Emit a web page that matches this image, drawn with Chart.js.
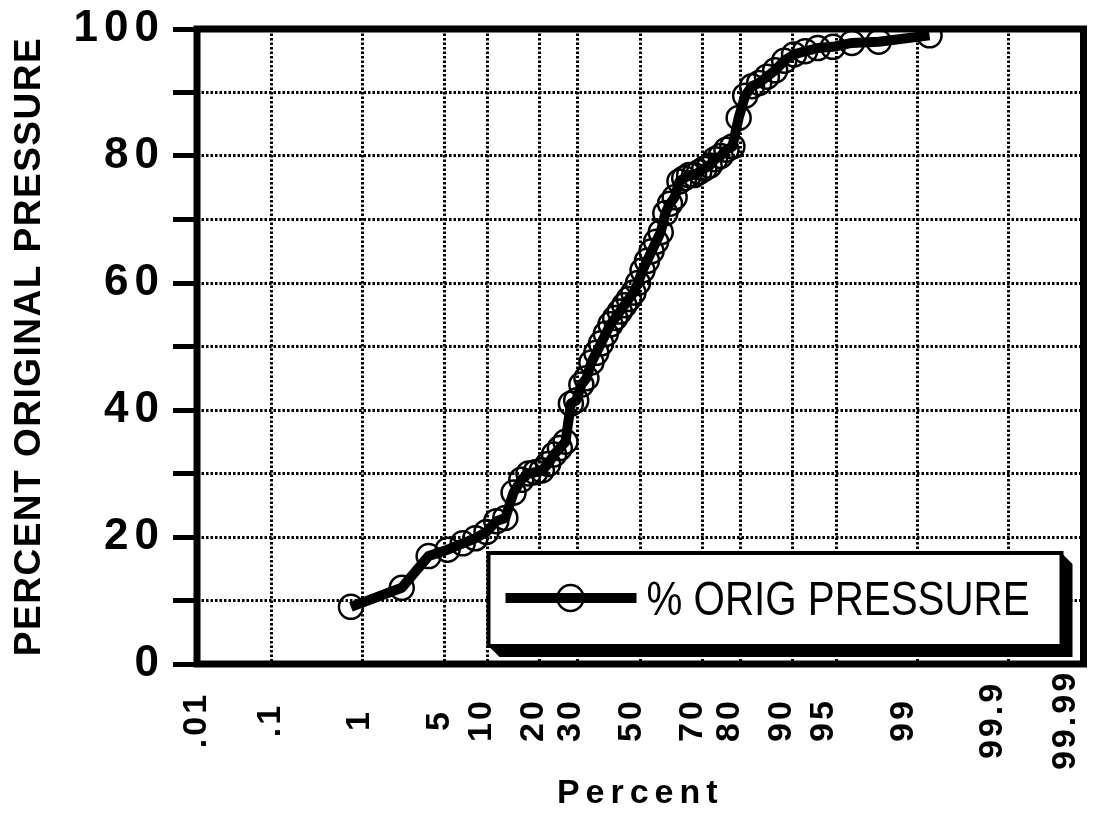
<!DOCTYPE html>
<html>
<head>
<meta charset="utf-8">
<title>Percent original pressure - probability plot</title>
<script src="https://cdn.jsdelivr.net/npm/chart.js@4.4.1/dist/chart.umd.min.js"></script>
<style>
  html, body { margin: 0; padding: 0; background: #fff; }
  canvas { display: block; }
</style>
</head>
<body>
<canvas id="chart" width="1098" height="814"></canvas>
<script>
// cumulative percent (plotting position) of each reading
const percentRank = [
    0.76, 2.27, 3.79, 5.30, 6.82, 8.33, 9.85, 11.36, 12.88, 14.39,
    15.91, 17.42, 18.94, 20.45, 21.97, 23.48, 25.00, 26.52, 28.03, 29.55,
    31.06, 32.58, 34.09, 35.61, 37.12, 38.64, 40.15, 41.67, 43.18, 44.70,
    46.21, 47.73, 49.24, 50.76, 52.27, 53.79, 55.30, 56.82, 58.33, 59.85,
    61.36, 62.88, 64.39, 65.91, 67.42, 68.94, 70.45, 71.97, 73.48, 75.00,
    76.52, 78.03, 79.55, 81.06, 82.58, 84.09, 85.61, 87.12, 88.64, 90.15,
    91.67, 93.18, 94.70, 96.21, 97.73, 99.24,
];

// percent of original pressure, sorted
const pressurePct = [
    9.0, 12.0, 17.0, 18.0, 19.0, 19.8, 20.8, 22.5, 23.0, 27.0,
    29.0, 30.0, 30.2, 30.5, 31.5, 33.0, 34.0, 35.0, 41.0, 41.5,
    44.0, 45.0, 47.5, 49.0, 50.5, 52.0, 53.5, 54.5, 55.5, 56.5,
    57.5, 58.5, 60.0, 62.0, 63.5, 65.0, 66.5, 68.0, 71.0, 72.5,
    73.5, 76.0, 76.5, 77.0, 77.0, 77.5, 78.0, 78.5, 79.5, 80.0,
    81.0, 81.5, 86.0, 89.5, 91.0, 91.5, 92.5, 93.5, 95.0, 96.0,
    96.5, 97.0, 97.2, 97.8, 98.0, 99.0,
];

const xTicks = [0.01, 0.1, 1, 5, 10, 20, 30, 50, 70, 80, 90, 95, 99, 99.9, 99.99];
const xTickLabels = ['.01', '.1', '1', '5', '10', '20', '30', '50', '70', '80', '90', '95', '99', '99.9', '99.99'];
const yLabeled = [0, 20, 40, 60, 80, 100];
const seriesLabel = '% ORIG PRESSURE';

const AXIS_FONT = '"Liberation Sans", Arial, Helvetica, sans-serif';

// inverse of the normal cdf (Acklam), used by the probability axis
function probit(p) {
    const a = [-3.969683028665376e+01, 2.209460984245205e+02, -2.759285104469687e+02, 1.383577518672690e+02, -3.066479806614716e+01, 2.506628277459239e+00];
    const b = [-5.447609879822406e+01, 1.615858368580409e+02, -1.556989798598866e+02, 6.680131188771972e+01, -1.328068155288572e+01];
    const c = [-7.784894002430293e-03, -3.223964580411365e-01, -2.400758277161838e+00, -2.549732539343734e+00, 4.374664141464968e+00, 2.938163982698783e+00];
    const d = [7.784695709041462e-03, 3.224671290700398e-01, 2.445134137142996e+00, 3.754408661907416e+00];
    const lo = 0.02425;
    if (p < lo || p > 1 - lo) {
        const q = Math.sqrt(-2 * Math.log(p < lo ? p : 1 - p));
        const v = (((((c[0] * q + c[1]) * q + c[2]) * q + c[3]) * q + c[4]) * q + c[5]) /
            ((((d[0] * q + d[1]) * q + d[2]) * q + d[3]) * q + 1);
        return p < lo ? v : -v;
    }
    const q = p - 0.5;
    const r = q * q;
    return (((((a[0] * r + a[1]) * r + a[2]) * r + a[3]) * r + a[4]) * r + a[5]) * q /
        (((((b[0] * r + b[1]) * r + b[2]) * r + b[3]) * r + b[4]) * r + 1);
}

function spacedText(ctx, spacing, draw) {
    ctx.save();
    ctx.letterSpacing = spacing || '0px';
    draw();
    ctx.restore();
}

class SpacedLinearScale extends Chart.LinearScale {
    drawLabels(area) {
        spacedText(this.ctx, this.options.ticks.letterSpacing, () => super.drawLabels(area));
    }
    drawTitle() {
        spacedText(this.ctx, this.options.title.letterSpacing, () => super.drawTitle());
    }
}
SpacedLinearScale.id = 'spacedLinear';
SpacedLinearScale.defaults = {};

// normal probability axis: values are percents, positions follow the z score
class ProbitScale extends SpacedLinearScale {
    determineDataLimits() {
        const lo = probit(xTicks[0] / 100);
        const hi = probit(xTicks[xTicks.length - 1] / 100);
        const stretch = this.options.stretch || 1;
        this.min = lo;
        this.max = lo + (hi - lo) * stretch;
    }
    buildTicks() {
        return xTicks.map((value) => ({ value }));
    }
    getPixelForValue(value) {
        return super.getPixelForValue(probit(value / 100));
    }
    // the rotated labels sit centred on a common line under the frame
    _computeLabelItems(area) {
        const items = super._computeLabelItems(area);
        const mid = this.options.ticks.centerOffset;
        if (mid) {
            items.forEach((item) => {
                item.options.textAlign = 'center';
                item.options.translation = [item.options.translation[0], this.top + mid];
            });
        }
        return items;
    }
}
ProbitScale.id = 'probit';
ProbitScale.defaults = {};

Chart.register(SpacedLinearScale, ProbitScale);

const whiteBg = {
    id: 'whiteBg',
    beforeDraw(chart) {
        const { ctx, width, height } = chart;
        ctx.save();
        ctx.fillStyle = '#fff';
        ctx.fillRect(0, 0, width, height);
        ctx.restore();
    },
};

const frame = {
    id: 'frame',
    afterDatasetsDraw(chart) {
        const { ctx, chartArea: a } = chart;
        ctx.save();
        ctx.lineWidth = 7;
        ctx.strokeStyle = '#000';
        ctx.strokeRect(a.left, a.top, a.right - a.left, a.bottom - a.top);
        ctx.restore();
    },
};

// boxed legend with the dropped shadow of the original
const legendBox = {
    id: 'legendBox',
    afterDraw(chart) {
        const { ctx, chartArea: a } = chart;
        const ds = chart.data.datasets[0];
        const x0 = a.right - 595;
        const x1 = a.right - 22;
        const y0 = a.bottom - 111;
        const y1 = a.bottom - 18;
        const d = 11;
        ctx.save();
        ctx.fillStyle = '#000';
        ctx.beginPath();
        ctx.moveTo(x1, y0);
        ctx.lineTo(x1 + d, y0 + d);
        ctx.lineTo(x1 + d, y1 + d);
        ctx.lineTo(x0 + d, y1 + d);
        ctx.lineTo(x0, y1);
        ctx.closePath();
        ctx.fill();
        ctx.fillStyle = '#fff';
        ctx.fillRect(x0, y0, x1 - x0, y1 - y0);
        ctx.lineWidth = 4;
        ctx.strokeStyle = '#000';
        ctx.strokeRect(x0, y0, x1 - x0, y1 - y0);

        const cy = y0 + 45;
        ctx.lineWidth = ds.borderWidth;
        ctx.beginPath();
        ctx.moveTo(x0 + 17, cy);
        ctx.lineTo(x0 + 148, cy);
        ctx.stroke();
        ctx.lineWidth = ds.pointBorderWidth;
        ctx.beginPath();
        ctx.arc(x0 + 82, cy, ds.pointRadius + 1, 0, Math.PI * 2);
        ctx.stroke();

        ctx.fillStyle = '#000';
        ctx.font = '48px ' + AXIS_FONT;
        ctx.textBaseline = 'alphabetic';
        ctx.textAlign = 'left';
        ctx.translate(x0 + 158, cy + 17);
        ctx.scale(0.84, 1);
        ctx.fillText(ds.label, 0, 0);
        ctx.restore();
    },
};

const noSidePadding = (s) => {
    s.paddingLeft = 0;
    s.paddingRight = 0;
};

new Chart(document.getElementById('chart'), {
    type: 'line',
    data: {
        datasets: [{
            label: seriesLabel,
            data: percentRank.map((x, i) => ({ x, y: pressurePct[i] })),
            xAxisID: 'x',
            yAxisID: 'y',
            borderColor: '#000',
            borderWidth: 10,
            borderJoinStyle: 'round',
            pointRadius: 12,
            pointBorderWidth: 2.5,
            pointBorderColor: '#000',
            pointBackgroundColor: 'rgba(0,0,0,0)',
            tension: 0,
            fill: false,
        }],
    },
    options: {
        responsive: false,
        animation: false,
        events: [],
        layout: { padding: { top: 29, right: 10, left: 0, bottom: 0 } },
        plugins: {
            legend: { display: false },
            tooltip: { enabled: false },
        },
        scales: {
            x: {
                type: 'probit',
                position: 'bottom',
                weight: 0,
                afterFit: (s) => { s.height = 0; noSidePadding(s); },
                grid: { color: '#000', lineWidth: 3, drawTicks: false },
                border: { display: false, dash: [2.5, 2] },
                ticks: { display: false },
            },
            xl: {
                type: 'probit',
                position: 'bottom',
                weight: 1,
                stretch: 1.02,
                afterFit: (s) => { s.height = 150; noSidePadding(s); },
                grid: { display: false, drawTicks: false },
                border: { display: false },
                ticks: {
                    autoSkip: false,
                    minRotation: 90,
                    maxRotation: 90,
                    padding: 20,
                    centerOffset: 56,
                    color: '#000',
                    letterSpacing: '3px',
                    font: { family: AXIS_FONT, size: 34, weight: 'bold' },
                    callback: (v) => xTickLabels[xTicks.indexOf(v)],
                },
                title: {
                    display: true,
                    text: 'Percent',
                    color: '#000',
                    letterSpacing: '6px',
                    padding: { top: 0, bottom: 0 },
                    font: { family: AXIS_FONT, size: 34, weight: 'bold' },
                },
            },
            y: {
                type: 'spacedLinear',
                position: 'left',
                min: 0,
                max: 100,
                afterFit: (s) => {
                    s.width = 197;
                    s.paddingTop = 0;
                    s.paddingBottom = 0;
                },
                grid: {
                    color: '#000',
                    lineWidth: 3,
                    tickLength: 24,
                    tickWidth: 5,
                    tickColor: '#000',
                    tickBorderDash: [],
                },
                border: { display: false, dash: [2.5, 2] },
                ticks: {
                    stepSize: 10,
                    padding: 8,
                    color: '#000',
                    letterSpacing: '6px',
                    font: { family: AXIS_FONT, size: 44, weight: 'bold' },
                    callback: (v) => (yLabeled.includes(v) ? String(v) : ''),
                },
                title: {
                    display: true,
                    text: 'PERCENT ORIGINAL PRESSURE',
                    color: '#000',
                    letterSpacing: '1.5px',
                    padding: { top: 8, bottom: 0 },
                    font: { family: AXIS_FONT, size: 37, weight: 'bold' },
                },
            },
        },
    },
    plugins: [whiteBg, frame, legendBox],
});
</script>
</body>
</html>
